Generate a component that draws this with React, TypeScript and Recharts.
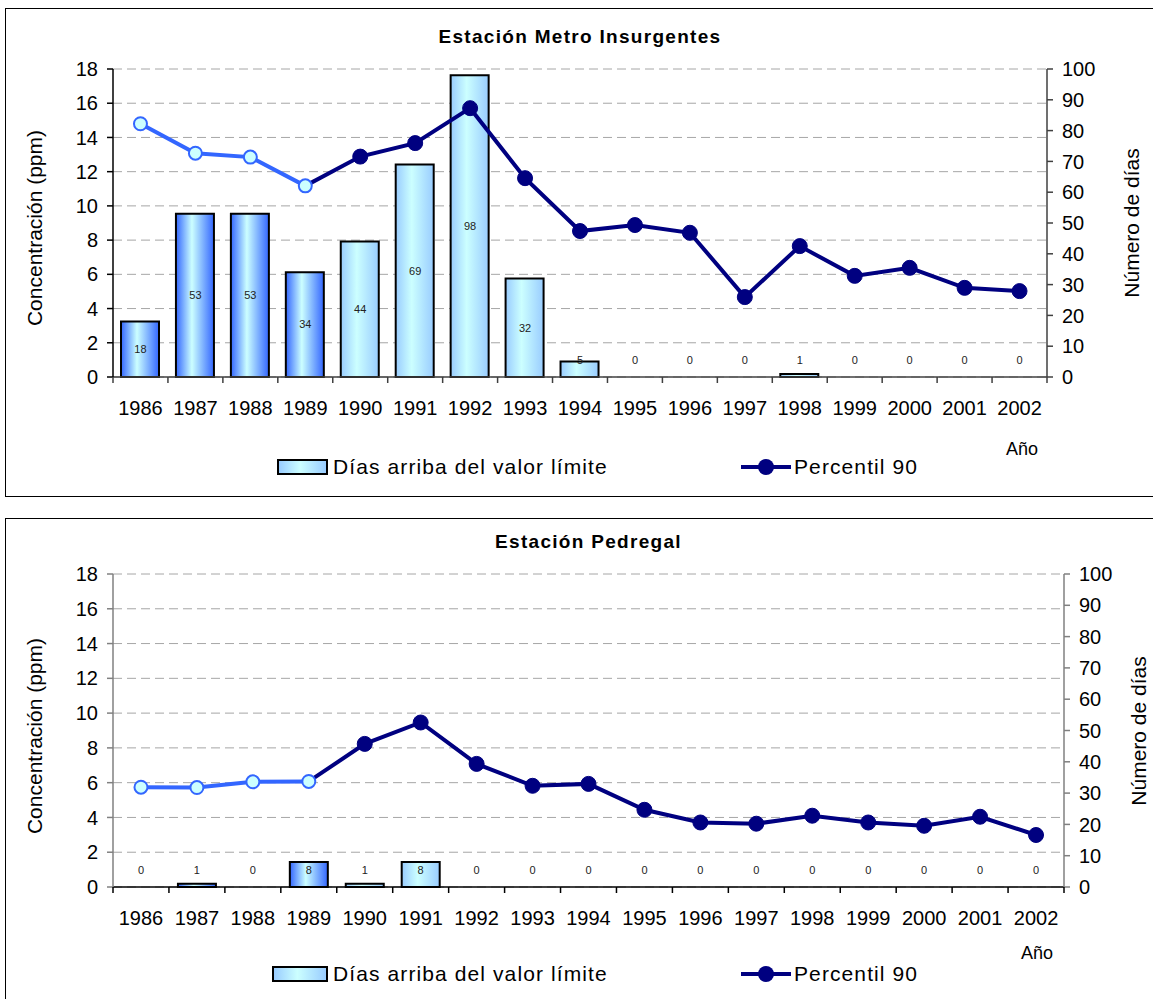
import React from 'react';
import { ComposedChart, Bar, Line, XAxis, YAxis, CartesianGrid, Cell, LabelList } from 'recharts';

const FONT = '"Liberation Sans", Arial, sans-serif';

const years = ['1986', '1987', '1988', '1989', '1990', '1991', '1992', '1993', '1994', '1995', '1996', '1997', '1998', '1999', '2000', '2001', '2002'];

// Estación Metro Insurgentes
const insDias = [18, 53, 53, 34, 44, 69, 98, 32, 5, 0, 0, 0, 1, 0, 0, 0, 0];
const insP90 = [14.8, 13.08, 12.85, 11.17, 12.88, 13.67, 15.71, 11.62, 8.53, 8.88, 8.43, 4.67, 7.65, 5.91, 6.38, 5.21, 5.02];

// Estación Pedregal
const pedDias = [0, 1, 0, 8, 1, 8, 0, 0, 0, 0, 0, 0, 0, 0, 0, 0, 0];
const pedP90 = [5.74, 5.72, 6.05, 6.07, 8.23, 9.46, 7.08, 5.82, 5.93, 4.44, 3.71, 3.64, 4.1, 3.71, 3.52, 4.04, 2.99];

const ppmTicks = [0, 2, 4, 6, 8, 10, 12, 14, 16, 18];
const diasTicks = [0, 10, 20, 30, 40, 50, 60, 70, 80, 90, 100];

// los primeros años (1986-1989) van en otro tono
const N_EARLY = 4;

const W = 1153;
const PLOT_LEFT = 113;
const X_AXIS_H = 40;

interface StationProps {
  id: string;
  title: string;
  dias: number[];
  p90: number[];
  boxTop: number;
  boxHeight: number;
  svgTop: number;
  svgHeight: number;
  plotTop: number;
  plotBottom: number;
  plotRight: number;
  leftAxisColor: string;
  rightAxisColor: string;
  xAxisColor: string;
  rightLabelX: number;
  anoX: number;
  anoY: number;
  legendY: number;
  legendBarX: number;
}

function rotated(text: string, cx: number, cy: number) {
  return (
    <div
      style={{
        position: 'absolute',
        left: cx,
        top: cy,
        transform: 'translate(-50%, -50%) rotate(-90deg)',
        whiteSpace: 'nowrap',
        fontSize: 21,
        color: '#000',
      }}
    >
      {text}
    </div>
  );
}

function Station(p: StationProps) {
  const rows = years.map((year, i) => ({
    year,
    dias: p.dias[i],
    early: i < N_EARLY ? p.p90[i] : null,
    late: i >= N_EARLY - 1 ? p.p90[i] : null,
  }));

  const band = (p.plotRight - PLOT_LEFT) / years.length;
  const baseY = p.plotBottom - p.svgTop;
  const plotMidY = (p.plotTop + p.plotBottom) / 2;

  const xTick = (t: any) => {
    const x = t.x;
    const last = t.index === years.length - 1;
    return (
      <g>
        <line x1={x - band / 2} x2={x - band / 2} y1={baseY} y2={baseY + 6} stroke={p.xAxisColor} strokeWidth={1.5} />
        {last && <line x1={x + band / 2} x2={x + band / 2} y1={baseY} y2={baseY + 6} stroke={p.xAxisColor} strokeWidth={1.5} />}
        <text x={x} y={baseY + 31} dy="0.35em" textAnchor="middle" fontSize={20} fill="#000">
          {t.payload.value}
        </text>
      </g>
    );
  };

  // etiqueta de días: centrada en la barra, o encima de la base si la barra es baja
  const diasLabel = (l: any) => {
    const vb = l.viewBox ?? {};
    const x = vb.x ?? l.x;
    const y = vb.y ?? l.y;
    if (x == null || y == null) return null;
    const h = baseY - y;
    const ty = h < 30 ? baseY - 17 : y + h / 2;
    return (
      <text key={`lbl-${l.index}`} x={x} y={ty} dy="0.35em" textAnchor="middle" fontSize={11} fill="#222">
        {l.value}
      </text>
    );
  };

  const lateDot = (d: any) => {
    if (d.index < N_EARLY || d.cy == null) return <g key={`ld-${d.index}`} />;
    return <circle key={`ld-${d.index}`} cx={d.cx} cy={d.cy} r={7.5} fill="#000080" stroke="#000080" strokeWidth={1} />;
  };

  return (
    <>
      <div
        style={{
          position: 'absolute',
          left: 5,
          top: p.boxTop,
          width: W,
          height: p.boxHeight,
          borderTop: '1.5px solid #000',
          borderLeft: '1.5px solid #000',
          borderBottom: '1.5px solid #000',
          boxSizing: 'border-box',
        }}
      />
      <div
        style={{
          position: 'absolute',
          left: PLOT_LEFT,
          width: p.plotRight - PLOT_LEFT,
          top: p.plotTop - 43,
          textAlign: 'center',
          fontWeight: 'bold',
          fontSize: 19,
          letterSpacing: 1.3,
          color: '#000',
        }}
      >
        {p.title}
      </div>
      {rotated('Concentración (ppm)', 35, plotMidY + 5)}
      {rotated('Número de días', p.rightLabelX, plotMidY)}
      <div style={{ position: 'absolute', left: p.anoX, top: p.anoY, transform: 'translate(-50%, -50%)', fontSize: 18 }}>
        Año
      </div>

      <div style={{ position: 'absolute', left: 0, top: p.svgTop }}>
        <ComposedChart
          width={W}
          height={p.svgHeight}
          data={rows}
          margin={{ top: p.plotTop - p.svgTop, right: 0, left: 0, bottom: p.svgTop + p.svgHeight - p.plotBottom - X_AXIS_H }}
        >
          <defs>
            <linearGradient id={`${p.id}-dark`} x1="0" y1="0" x2="1" y2="0">
              <stop offset="0%" stopColor="#3366FF" />
              <stop offset="42%" stopColor="#CCFFFF" />
              <stop offset="100%" stopColor="#3366FF" />
            </linearGradient>
            <linearGradient id={`${p.id}-light`} x1="0" y1="0" x2="1" y2="0">
              <stop offset="0%" stopColor="#99CCFF" />
              <stop offset="42%" stopColor="#CCFFFF" />
              <stop offset="100%" stopColor="#99CCFF" />
            </linearGradient>
          </defs>
          <CartesianGrid yAxisId="ppm" vertical={false} stroke="#A6A6A6" strokeDasharray="9 5" />
          <XAxis
            dataKey="year"
            interval={0}
            height={X_AXIS_H}
            tickLine={false}
            axisLine={{ stroke: p.xAxisColor, strokeWidth: 1.5 }}
            tick={xTick}
          />
          <YAxis
            yAxisId="ppm"
            orientation="left"
            width={PLOT_LEFT}
            domain={[0, 18]}
            ticks={ppmTicks}
            interval={0}
            tickSize={6}
            tickMargin={9}
            tick={{ fontSize: 20, fill: '#000' }}
            tickLine={{ stroke: p.leftAxisColor, strokeWidth: 1.5 }}
            axisLine={{ stroke: p.leftAxisColor, strokeWidth: 1.5 }}
          />
          <YAxis
            yAxisId="dias"
            orientation="right"
            width={W - p.plotRight}
            domain={[0, 100]}
            ticks={diasTicks}
            interval={0}
            tickSize={6}
            tickMargin={9}
            tick={{ fontSize: 20, fill: '#000' }}
            tickLine={{ stroke: p.rightAxisColor, strokeWidth: 1.5 }}
            axisLine={{ stroke: p.rightAxisColor, strokeWidth: 1.5 }}
          />
          <Bar yAxisId="dias" dataKey="dias" barSize={38} stroke="#000" strokeWidth={2} isAnimationActive={false}>
            {rows.map((_, i) => (
              <Cell key={i} fill={i < N_EARLY ? `url(#${p.id}-dark)` : `url(#${p.id}-light)`} />
            ))}
          </Bar>
          {/* serie invisible sólo para poner los valores, también los ceros */}
          <Line
            yAxisId="dias"
            dataKey="dias"
            stroke="none"
            dot={false}
            activeDot={false}
            legendType="none"
            isAnimationActive={false}
          >
            <LabelList dataKey="dias" content={diasLabel} />
          </Line>
          <Line
            yAxisId="ppm"
            dataKey="late"
            stroke="#000080"
            strokeWidth={4}
            dot={lateDot}
            activeDot={false}
            isAnimationActive={false}
          />
          <Line
            yAxisId="ppm"
            dataKey="early"
            stroke="#3366FF"
            strokeWidth={4}
            dot={{ r: 6.5, fill: '#CCFFFF', stroke: '#3366FF', strokeWidth: 2 }}
            activeDot={false}
            isAnimationActive={false}
          />
        </ComposedChart>
      </div>

      {/* leyenda */}
      <div
        style={{
          position: 'absolute',
          left: p.legendBarX,
          top: p.legendY - 8,
          width: 328 - p.legendBarX,
          height: 16,
          border: '2px solid #000',
          boxSizing: 'border-box',
          background: 'linear-gradient(to right, #99CCFF, #CCFFFF 45%, #99CCFF)',
        }}
      />
      <div style={{ position: 'absolute', left: 333, top: p.legendY, transform: 'translateY(-50%)', fontSize: 21, letterSpacing: 1.1, whiteSpace: 'nowrap' }}>
        Días arriba del valor límite
      </div>
      <svg style={{ position: 'absolute', left: 741, top: p.legendY - 10 }} width={50} height={20}>
        <line x1={0} x2={50} y1={10} y2={10} stroke="#000080" strokeWidth={4} />
        <circle cx={25} cy={10} r={8} fill="#000080" />
      </svg>
      <div style={{ position: 'absolute', left: 794, top: p.legendY, transform: 'translateY(-50%)', fontSize: 21, letterSpacing: 1.1, whiteSpace: 'nowrap' }}>
        Percentil 90
      </div>
    </>
  );
}

export default function App() {
  return (
    <div style={{ position: 'absolute', left: 0, top: 0, width: W, height: 999, overflow: 'hidden', fontFamily: FONT, background: '#fff' }}>
      <Station
        id="ins"
        title="Estación Metro Insurgentes"
        dias={insDias}
        p90={insP90}
        boxTop={8}
        boxHeight={489}
        svgTop={0}
        svgHeight={500}
        plotTop={69}
        plotBottom={377}
        plotRight={1047}
        leftAxisColor="#000"
        rightAxisColor="#404040"
        xAxisColor="#404040"
        rightLabelX={1132}
        anoX={1022}
        anoY={449}
        legendY={467}
        legendBarX={277}
      />
      <Station
        id="ped"
        title="Estación Pedregal"
        dias={pedDias}
        p90={pedP90}
        boxTop={518}
        boxHeight={500}
        svgTop={505}
        svgHeight={494}
        plotTop={574}
        plotBottom={887}
        plotRight={1064}
        leftAxisColor="#808080"
        rightAxisColor="#808080"
        xAxisColor="#000"
        rightLabelX={1139}
        anoX={1037}
        anoY={953}
        legendY={974}
        legendBarX={272}
      />
    </div>
  );
}
